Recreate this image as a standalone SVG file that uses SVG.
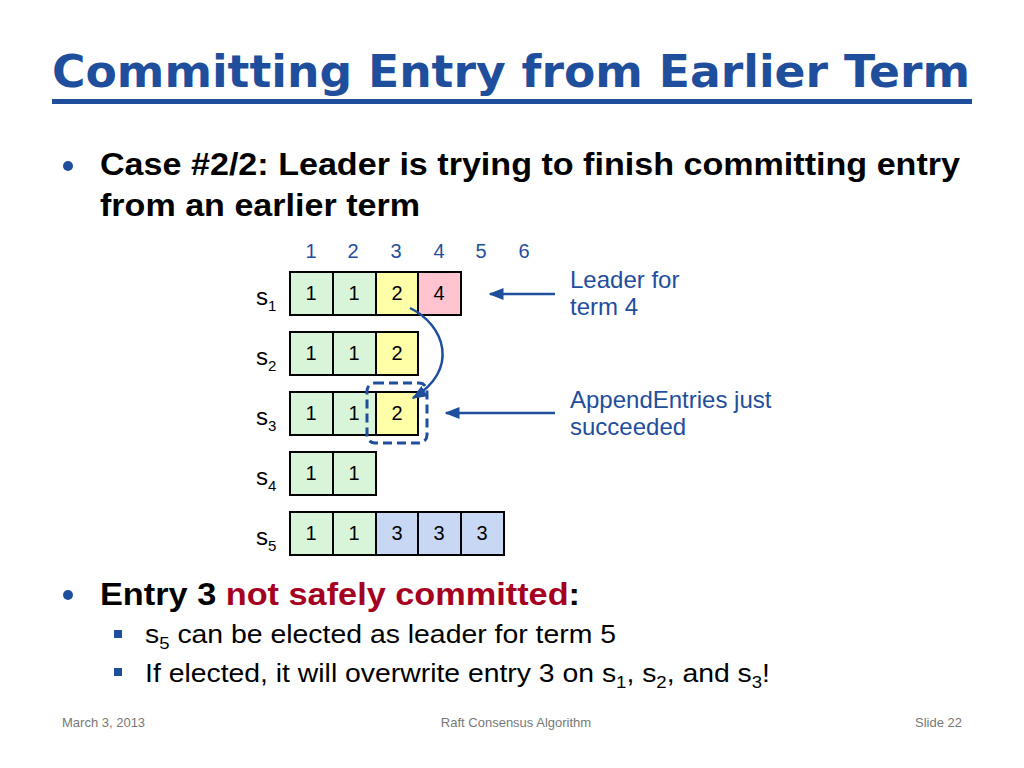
<svg xmlns="http://www.w3.org/2000/svg" width="1024" height="768" viewBox="0 0 1024 768">
<style>
.t{font-family:"Liberation Sans",Arial,sans-serif}
.blue{fill:#1f4e9c}
.c{stroke:#000;stroke-width:2}
.g{fill:#d9f5d9}.y{fill:#ffffa8}.p{fill:#ffc4d0}.b{fill:#c8d8f4}
.n{font-family:"Liberation Sans",Arial,sans-serif;font-size:20px;text-anchor:middle}
.s{font-family:"Liberation Sans",Arial,sans-serif;font-size:24px}
</style>
<defs>
<marker id="ah" viewBox="0 0 10 10" refX="9" refY="5" markerWidth="6" markerHeight="6" orient="auto"><path d="M0,1 L10,5 L0,9 z" fill="#1f4e9c"/></marker>
</defs>
<rect width="1024" height="768" fill="#fff"/>
<text x="52" y="87" font-family="DejaVu Sans,Verdana,sans-serif" class="blue" font-size="44" font-weight="bold" textLength="918" lengthAdjust="spacingAndGlyphs">Committing Entry from Earlier Term</text>
<rect x="52" y="99" width="920" height="5" fill="#1f4e9c"/>
<circle cx="68" cy="166" r="5" fill="#1f4e9c"/>
<text x="100" y="175" class="t" font-size="31" font-weight="bold" textLength="860" lengthAdjust="spacingAndGlyphs">Case #2/2: Leader is trying to finish committing entry</text>
<text x="100" y="216" class="t" font-size="31" font-weight="bold" textLength="320" lengthAdjust="spacingAndGlyphs">from an earlier term</text>
<g class="n">
<text x="311" y="258" fill="#1f4e9c">1</text><text x="353" y="258" fill="#1f4e9c">2</text><text x="396" y="258" fill="#1f4e9c">3</text><text x="439" y="258" fill="#1f4e9c">4</text><text x="481" y="258" fill="#1f4e9c">5</text><text x="524" y="258" fill="#1f4e9c">6</text>
</g>
<g id="s1">
<text x="256" y="305" class="s">s<tspan font-size="15" dy="6">1</tspan></text>
<rect x="290" y="272" width="43" height="43" class="c g"/><rect x="333" y="272" width="43" height="43" class="c g"/><rect x="376" y="272" width="42" height="43" class="c y"/><rect x="418" y="272" width="43" height="43" class="c p"/>
<text x="311" y="300" class="n">1</text><text x="354" y="300" class="n">1</text><text x="397" y="300" class="n">2</text><text x="439" y="300" class="n">4</text>
</g>
<g id="s2">
<text x="256" y="365" class="s">s<tspan font-size="15" dy="6">2</tspan></text>
<rect x="290" y="332" width="43" height="43" class="c g"/><rect x="333" y="332" width="43" height="43" class="c g"/><rect x="376" y="332" width="42" height="43" class="c y"/>
<text x="311" y="360" class="n">1</text><text x="354" y="360" class="n">1</text><text x="397" y="360" class="n">2</text>
</g>
<g id="s3">
<text x="256" y="425" class="s">s<tspan font-size="15" dy="6">3</tspan></text>
<rect x="290" y="392" width="43" height="43" class="c g"/><rect x="333" y="392" width="43" height="43" class="c g"/><rect x="376" y="392" width="42" height="43" class="c y"/>
<text x="311" y="420" class="n">1</text><text x="354" y="420" class="n">1</text><text x="397" y="420" class="n">2</text>
<rect x="367" y="383" width="60" height="60" rx="8" fill="none" stroke="#1f4e9c" stroke-width="3" stroke-dasharray="9,5"/>
</g>
<g id="s4">
<text x="256" y="485" class="s">s<tspan font-size="15" dy="6">4</tspan></text>
<rect x="290" y="452" width="43" height="43" class="c g"/><rect x="333" y="452" width="43" height="43" class="c g"/>
<text x="311" y="480" class="n">1</text><text x="354" y="480" class="n">1</text>
</g>
<g id="s5">
<text x="256" y="545" class="s">s<tspan font-size="15" dy="6">5</tspan></text>
<rect x="290" y="512" width="43" height="43" class="c g"/><rect x="333" y="512" width="43" height="43" class="c g"/><rect x="376" y="512" width="42" height="43" class="c b"/><rect x="418" y="512" width="43" height="43" class="c b"/><rect x="461" y="512" width="43" height="43" class="c b"/>
<text x="311" y="540" class="n">1</text><text x="354" y="540" class="n">1</text><text x="397" y="540" class="n">3</text><text x="439" y="540" class="n">3</text><text x="482" y="540" class="n">3</text>
</g>
<g id="connectors" fill="none" stroke="#1f4e9c" stroke-width="2.5">
<path d="M410,308 C445,325 460,370 413,398" marker-end="url(#ah)"/>
<line x1="555" y1="294" x2="490" y2="294" marker-end="url(#ah)"/>
<line x1="555" y1="413" x2="446" y2="413" marker-end="url(#ah)"/>
</g>
<g class="t blue" font-size="24">
<text x="570" y="288">Leader for</text><text x="570" y="315">term 4</text>
<text x="570" y="408">AppendEntries just</text><text x="570" y="435">succeeded</text>
</g>
<circle cx="68" cy="595" r="5" fill="#1f4e9c"/>
<text x="100" y="605" class="t" font-size="31" font-weight="bold" textLength="480" lengthAdjust="spacingAndGlyphs">Entry 3 <tspan fill="#a50021">not safely committed</tspan>:</text>
<rect x="114" y="630" width="8" height="8" fill="#1f4e9c"/>
<text x="145" y="643" class="t" font-size="26" textLength="471" lengthAdjust="spacingAndGlyphs">s<tspan font-size="17" dy="6">5</tspan><tspan dy="-6"> can be elected as leader for term 5</tspan></text>
<rect x="114" y="668" width="8" height="8" fill="#1f4e9c"/>
<text x="145" y="682" class="t" font-size="26" textLength="625" lengthAdjust="spacingAndGlyphs">If elected, it will overwrite entry 3 on s<tspan font-size="17" dy="6">1</tspan><tspan dy="-6">, s</tspan><tspan font-size="17" dy="6">2</tspan><tspan dy="-6">, and s</tspan><tspan font-size="17" dy="6">3</tspan><tspan dy="-6">!</tspan></text>
<g class="t" font-size="13" fill="#777">
<text x="62" y="727">March 3, 2013</text>
<text x="516" y="727" text-anchor="middle">Raft Consensus Algorithm</text>
<text x="962" y="727" text-anchor="end">Slide 22</text>
</g>
</svg>
